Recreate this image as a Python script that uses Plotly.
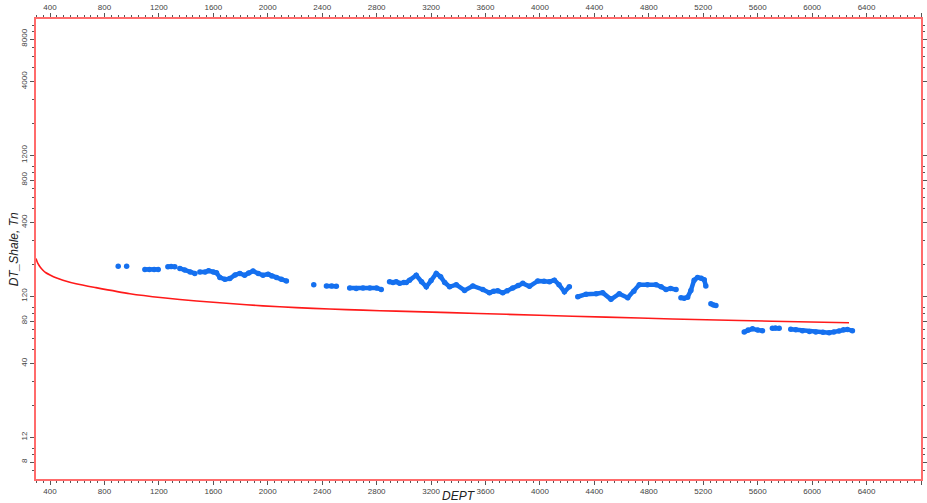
import plotly.graph_objects as go

# Normal compaction trend (red line)
trend_depth = [297, 304, 312, 326, 348, 370, 400, 444, 495, 591, 737, 987, 1229, 1477,
               1721, 1965, 2211, 2455, 2699, 2944, 3336, 3752, 4240, 4730, 5220, 5708, 6271]
trend_dt = [222, 212.5, 204, 194, 183.5, 176, 169.6, 162, 156, 147, 138, 125, 117, 111,
            106.6, 102.5, 99.6, 97.4, 95.6, 94, 91.8, 89.3, 86.6, 84, 81.7, 79.8, 77.8]

# Shale DT points (blue), None = gap in log
shale_depth = [901, None, 963, None,
               1097, 1130, 1165, 1195, None,
               1266, 1290, 1317, None,
               1354, 1390, 1430, 1464, None,
               1501, 1540, 1565, 1600, 1623, 1648, 1685, 1721, 1760, 1795, 1830, 1860,
               1892, 1930, 1965, 2002, 2030, 2064, 2100, 2137, None,
               2338, None,
               2431, 2470, 2504, None,
               2602, 2650, 2700, 2750, 2800, 2834, None,
               2895, 2920, 2944, 2969, 3000, 3018, 3042, 3091, 3130, 3165, 3200, 3238,
               3270, 3300, 3336, 3385, 3446, 3507, 3580, 3629, 3660, 3690, 3727, 3760,
               3800, 3840, 3874, 3923, 3984, 4030, 4070, 4106, 4140, 4180, 4216, None,
               4278, 4339, 4413, 4461, 4522, 4583, 4645, 4690, 4730, 4790, 4853, 4890,
               4926, 4960, 5000, None,
               5036, 5060, 5085, 5109, 5133, 5158, 5185, 5207, 5219, None,
               5256, 5275, 5293, None,
               5501, 5530, 5562, 5600, 5635, None,
               5708, 5730, 5758, None,
               5843, 5880, 5929, 5980, 6027, 6080, 6125, 6160, 6198, 6230, 6259, 6296]
shale_dt = [196, None, 196, None,
            186, 186, 186, 186, None,
            194, 195, 194, None,
            189, 184, 178, 174, None,
            178, 178, 182, 178, 176, 163, 158, 160, 170, 174, 169, 175,
            181, 174, 169, 172, 167, 163, 158, 154, None,
            145, None,
            142, 142, 141, None,
            137, 136, 137, 137, 137, 134, None,
            152, 150, 152, 148, 150, 150, 156, 169, 152, 140, 155, 174,
            165, 150, 140, 145, 132, 142, 134, 127, 130, 131, 127, 131,
            137, 143, 148, 141, 154, 153, 152, 156, 145, 129, 140, None,
            119, 124, 125, 127, 114, 125, 117, 130, 145, 145, 145, 140,
            134, 136, 134, None,
            117, 116, 118, 132, 156, 163, 161, 157, 142, None,
            106, 104, 103, None,
            67, 69, 70.5, 69, 68.4, None,
            71, 71.5, 71, None,
            70, 69.5, 68.4, 67.5, 67, 66.5, 66, 67, 68, 69.5, 69.6, 68.4]

y_tick_vals = [8, 12, 40, 80, 120, 400, 800, 1200, 4000, 8000]
y_tick_text = ["8", "12", "40", "80", "120", "400", "800", "1200", "4000", "8000"]
y_minor_vals = [m * 10 ** e for e in range(0, 5) for m in range(1, 10)]

x_range = [297, 6800]
y_range_log = [0.783, 4.045]

AXIS_RED = "#ff6b6b"
TICK_COL = "#555555"
FONT = "Liberation Sans"

fig = go.Figure()
fig.add_trace(go.Scatter(x=trend_depth, y=trend_dt, mode="lines",
                         line=dict(color="#ff1a1a", width=1.6, shape="spline", smoothing=0.6),
                         showlegend=False, hoverinfo="skip"))
fig.add_trace(go.Scatter(x=shale_depth, y=shale_dt, mode="lines+markers",
                         line=dict(color="#1570ef", width=4.5),
                         marker=dict(color="#1570ef", size=5.5),
                         connectgaps=False, showlegend=False))
fig.add_trace(go.Scatter(x=[None], y=[None], xaxis="x2", yaxis="y2",
                         showlegend=False, hoverinfo="skip"))

xcommon = dict(range=x_range, tick0=400, dtick=400, ticks="outside", ticklen=4,
               tickcolor=TICK_COL, tickwidth=1, automargin=False,
               minor=dict(dtick=50, tick0=400, ticks="outside", ticklen=2, tickcolor=TICK_COL),
               showgrid=False, zeroline=False, showline=True, linecolor=AXIS_RED, linewidth=1.5,
               tickfont=dict(family=FONT, size=8, color="#444444"))
ycommon = dict(type="log", range=y_range_log, tickmode="array", tickvals=y_tick_vals,
               ticktext=y_tick_text, ticks="outside", ticklen=4, tickcolor=TICK_COL,
               automargin=False,
               minor=dict(tickmode="array", tickvals=y_minor_vals, ticks="outside",
                          ticklen=2, tickcolor=TICK_COL),
               showgrid=False, zeroline=False, showline=True, linecolor=AXIS_RED, linewidth=1.5,
               tickangle=-90)

fig.update_layout(
    width=927, height=503,
    margin=dict(l=36, r=6, t=19, b=24, autoexpand=False),
    paper_bgcolor="white", plot_bgcolor="white",
    xaxis=dict(**xcommon, side="bottom"),
    xaxis2=dict(**xcommon, side="top", overlaying="x", anchor="y"),
    yaxis=dict(**ycommon, side="left", tickfont=dict(family=FONT, size=8, color="#444444")),
    yaxis2=dict(**ycommon, side="right", overlaying="y", anchor="x", showticklabels=False),
    annotations=[
        dict(text="<i>DT_Shale, Tn</i>", xref="paper", yref="paper", x=-0.0245, y=0.5,
             textangle=-90, showarrow=False, xanchor="center", yanchor="middle",
             font=dict(family=FONT, size=12, color="#222222")),
        dict(text="<i>DEPT</i>", xref="paper", yref="paper", x=0.478, y=-0.038,
             showarrow=False, xanchor="center", yanchor="middle",
             font=dict(family=FONT, size=12, color="#222222")),
    ],
)

fig.write_html("out.html", config={"displayModeBar": False},
               post_script="document.body.style.margin='0';document.body.style.overflow='hidden';")
